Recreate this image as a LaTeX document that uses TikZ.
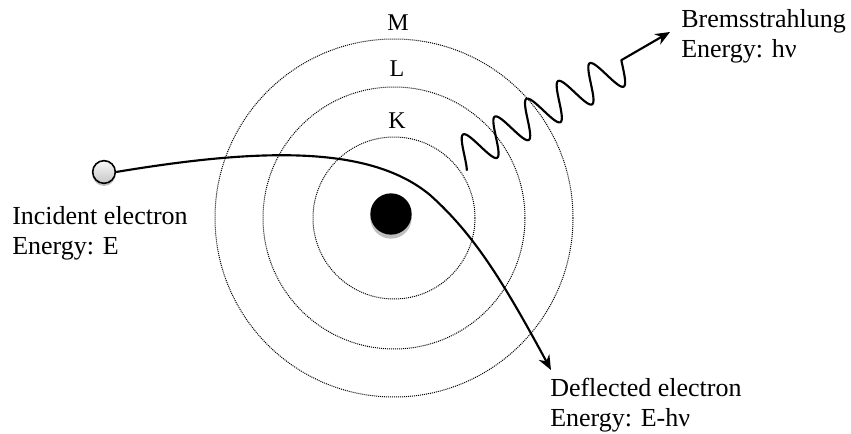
\documentclass[tikz,border=0pt]{standalone}
\usepackage{fontspec}
\setmainfont{Liberation Serif}
\usetikzlibrary{arrows.meta, positioning, shadows}
\tikzset{
  shell/.style={draw=black, line width=0.75pt, dash pattern=on 0.75pt off 0.75pt},
  shelllabel/.style={inner sep=0pt, font=\fontsize{18}{22}\selectfont},
  caption/.style={align=left, anchor=base west, inner sep=0pt,
                  font=\fontsize{19.5}{22.5}\selectfont},
  electron/.style={circle, draw=black, line width=1.2pt, minimum size=17pt,
                   inner sep=0pt, top color=gray!5, bottom color=gray!45,
                   drop shadow={shadow xshift=0pt, shadow yshift=-2pt}},
  nucleus/.style={circle, fill=black, minimum size=31pt, inner sep=0pt,
                  drop shadow={shadow xshift=0pt, shadow yshift=-3pt}},
  trajectory/.style={-{Stealth[length=11pt, width=9pt]}, line width=1.6pt},
}

\begin{document}
\begin{tikzpicture}[x=0.75pt, y=-0.75pt]
  \useasboundingbox (0,0) rectangle (851,434);

  % atom
  \coordinate (ctr) at (394,218);
  \draw[shell] (ctr) circle [radius=81];
  \draw[shell] (ctr) circle [radius=131];
  \draw[shell] (ctr) circle [radius=179];
  \node[shelllabel] (mlab) at (398,23)  {M};
  \node[shelllabel] (llab) at (397,69)  {L};
  \node[shelllabel] (klab) at (397,121) {K};
  \node[nucleus] (nuc) at (391,214) {};

  % electrons
  \node[electron] (inc) at (104,172) {};
  \coordinate (defl) at (551,370);
  \coordinate (brem) at (670,32);

  % captions, placed at the baseline of their last line
  \node[caption] (inctext)  at (12,255)  {Incident electron\\Energy: E};
  \node[caption] (defltext) at (550,427) {Deflected electron\\Energy: E-hν};
  \node[caption] (bremtext) at (681,58)  {Bremsstrahlung\\Energy: hν};

  \draw[trajectory] (inc.east) .. controls (260,148) and (370,145) .. (430,195)
                    .. controls (475,235) and (505,285) .. (defl);
  \draw[trajectory, line join=round]
    plot[domain=-0.15:5.05, samples=220, smooth, variable=\t]
      ({464.3 + 31.65*\t - 9.07*sin(360*\t)}, {155 - 17.8*\t - 16.13*sin(360*\t)})
    -- (brem);
\end{tikzpicture}
\end{document}
